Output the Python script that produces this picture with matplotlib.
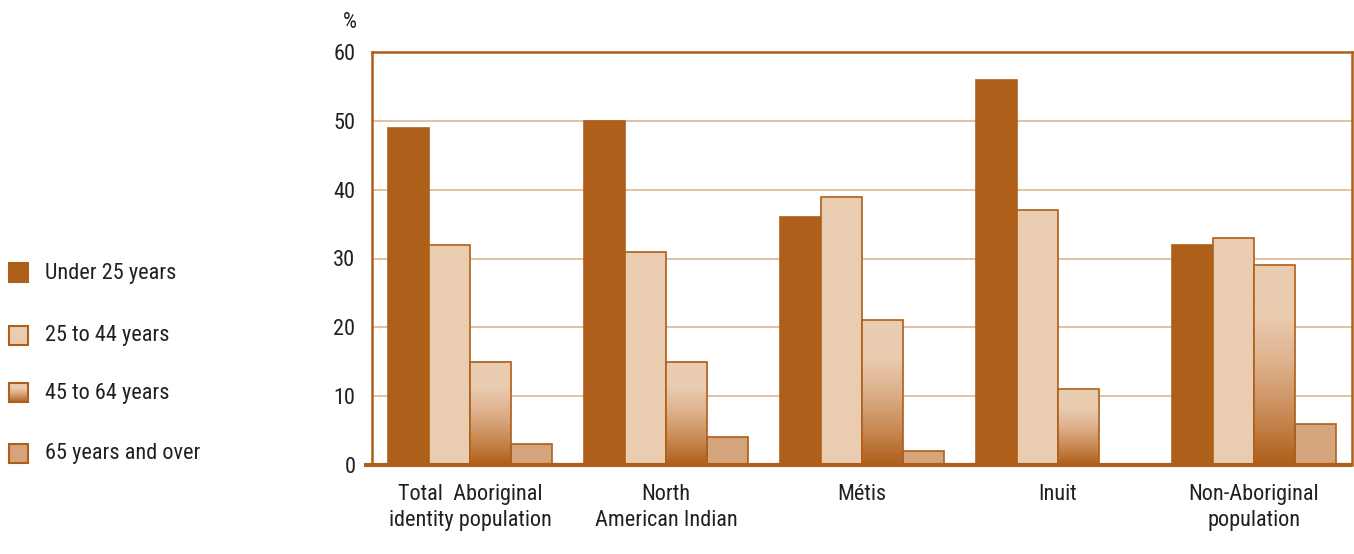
import matplotlib
matplotlib.use("Agg")
import matplotlib.pyplot as plt
import numpy as np
from matplotlib.colors import LinearSegmentedColormap
from matplotlib.patches import Rectangle
from matplotlib import font_manager

categories = ["Total  Aboriginal\nidentity population", "North\nAmerican Indian",
              "Métis", "Inuit", "Non-Aboriginal\npopulation"]
series_names = ["Under 25 years", "25 to 44 years", "45 to 64 years", "65 years and over"]
under25 = [49, 50, 36, 56, 32]
age25_44 = [32, 31, 39, 37, 33]
age45_64 = [15, 15, 21, 11, 29]
age65 = [3, 4, 2, 0, 6]
yticks = [0, 10, 20, 30, 40, 50, 60]

DARK = "#AE5F1A"
LIGHT = "#EACCB0"
MID = "#D4A47A"
GRID = "#E3BC96"
TXT = "#231F20"

names = {f.name for f in font_manager.fontManager.ttflist}
cands = [n for n in ["Roboto Condensed", "Liberation Sans Narrow", "Open Sans Condensed",
                     "Noto Sans Condensed", "DejaVu Sans Condensed"] if n in names]
condensed = len(cands) > 0
plt.rcParams['font.family'] = cands + ['Liberation Sans', 'DejaVu Sans']
FS = 16 if condensed else 13.8

fig = plt.figure(figsize=(13.54, 5.54), dpi=100)
ax = fig.add_axes([372/1354, 1-465/554, 980/1354, 413/554])

n = len(categories)
x = np.arange(n)
w = 0.209
offsets = np.array([-1.5, -0.5, 0.5, 1.5]) * w

for yv in yticks[1:-1]:
    ax.axhline(yv, color=GRID, lw=1.3, zorder=0)

cmap = LinearSegmentedColormap.from_list("g", [DARK, "#C98A55", "#DDB08A", LIGHT, LIGHT])
grad = np.linspace(0, 1, 256).reshape(-1, 1)

ax.bar(x + offsets[0], under25, w, color=DARK, edgecolor=DARK, lw=1.2, zorder=2)
ax.bar(x + offsets[1], age25_44, w, color=LIGHT, edgecolor=DARK, lw=1.2, zorder=2)
bars3 = ax.bar(x + offsets[2], age45_64, w, color="none", edgecolor=DARK, lw=1.2, zorder=3)
for b in bars3:
    x0, y0 = b.get_x(), b.get_y()
    bw, bh = b.get_width(), b.get_height()
    ax.imshow(grad, cmap=cmap, extent=[x0, x0 + bw, y0, y0 + bh], origin="lower",
              aspect="auto", zorder=2, interpolation="bilinear")
ax.bar(x + offsets[3], age65, w, color=MID, edgecolor=DARK, lw=1.2, zorder=2)
ax.set_xlim(-0.5, n - 0.5)
ax.set_ylim(0, 60)

for s in ["left", "right", "top"]:
    ax.spines[s].set_color(DARK)
    ax.spines[s].set_linewidth(1.8)
ax.spines["bottom"].set_visible(False)
ax.plot([-0.54, n - 0.5], [0, 0], color=DARK, lw=3, clip_on=False, zorder=4,
        solid_capstyle="butt")

ax.set_yticks(yticks)
ax.set_yticklabels([str(v) for v in yticks], fontsize=FS, color=TXT)
ax.tick_params(axis="y", length=0, pad=12)
ax.set_xticks(x)
ax.set_xticklabels(categories, fontsize=FS, color=TXT, linespacing=1.3)
ax.tick_params(axis="x", length=0, pad=14)

fig.text(350/1354, 1-22/554, "%", fontsize=FS, color=TXT, ha="center", va="center")

legend_y = [273, 336, 393, 454]
faces = [DARK, LIGHT, None, MID]
for yy, fc, name in zip(legend_y, faces, series_names):
    lx, ly = 9/1354, 1-(yy+9)/554
    lw_, lh = 19/1354, 19/554
    if fc is None:
        iax = fig.add_axes([lx, ly, lw_, lh])
        iax.imshow(grad, cmap=cmap, origin="lower", aspect="auto", extent=[0, 1, 0, 1])
        iax.set_xticks([]); iax.set_yticks([])
        for s in iax.spines.values():
            s.set_color(DARK); s.set_linewidth(1.5)
    else:
        fig.patches.append(Rectangle((lx, ly), lw_, lh, transform=fig.transFigure,
                                     facecolor=fc, edgecolor=DARK, lw=1.5))
    fig.text(45/1354, 1-yy/554, name, fontsize=FS, color=TXT, ha="left", va="center")

fig.savefig("out.png", dpi=100)
